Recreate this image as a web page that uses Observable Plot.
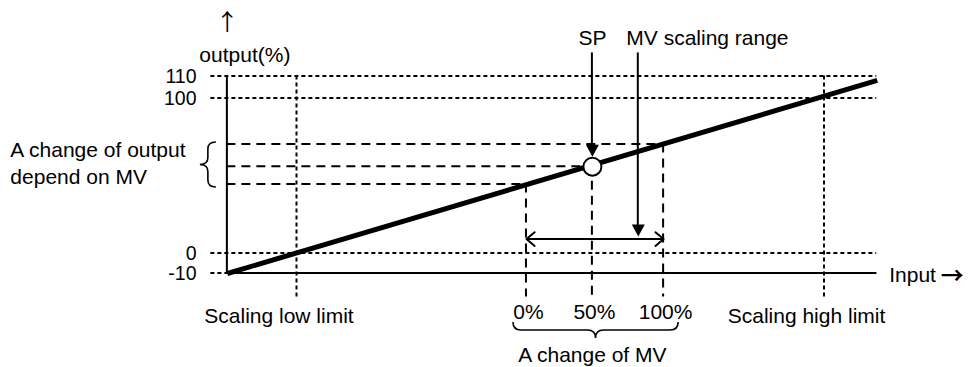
<!DOCTYPE html>
<html>
<head>
<meta charset="utf-8">
<script src="https://cdn.jsdelivr.net/npm/d3@7"></script>
<script src="https://cdn.jsdelivr.net/npm/@observablehq/plot@0.6"></script>
<style>
  html, body { margin: 0; padding: 0; background: #fff; }
  g[aria-label^="y-axis"] text { font-size: 19.5px; }
</style>
</head>
<body>
<div id="chart"></div>
<script>
// ---------------- data ----------------
const outputTicks   = [-10, 0, 100, 110];          // output(%) reference levels
const inputExtent   = [-13.2, 110];                // input axis: origin .. arrow end
const scalingLimits = [0, 100];                    // scaling low / high limit (input)
const scalingLabels = ["Scaling low limit", "Scaling high limit"];
const lineInput     = [-13.2, 110];                // characteristic line end points
const lineOutput    = [-10, 108.2];
const mvLabels      = ["0%", "50%", "100%"];
const mvInput       = [43.5, 56, 69.5];            // MV 0 / 50 / 100 % on the input axis
const mvOutput      = [44.5, 56, 70.3];            // corresponding output values
const spIndex       = 1;                           // SP sits at MV 50 %
const mvRangeInput  = 64.7;                        // "MV scaling range" arrow position
const mvRangeTip    = 11;                          // where that arrow ends
const mvSpanOutput  = 9;                           // level of the 0%..100% double arrow
const arrowTopOutput = 120.5;                      // top of the SP / MV arrows
const guideBottom   = -22;                         // lower end of vertical guides

// ---------------- styles ----------------
const black = "#000";
const crisp = {dx: -0.5, dy: -0.5};
const dotted = {stroke: black, strokeWidth: 2, strokeDasharray: "4,3", ...crisp};
const dashed = {stroke: black, strokeWidth: 2, strokeDasharray: "9,6", ...crisp};
const solid = {stroke: black, strokeWidth: 2, ...crisp};
const arrowFont = "'Noto Sans CJK JP', 'DejaVu Sans', sans-serif";

// downward triangle with its tip at the anchor point
const arrowHead = {
  draw(ctx, size) {
    const r = Math.sqrt(size / Math.PI);
    const w = 2.6 * r, h = 2.4 * r;
    ctx.moveTo(0, 0);
    ctx.lineTo(-w / 2, -h);
    ctx.lineTo(w / 2, -h);
    ctx.closePath();
  }
};

function hBrace(x1, x2, y0, d) {
  const h = d / 2, r = Math.min(8, (x2 - x1) / 4), m = (x1 + x2) / 2;
  return `M${x1},${y0} Q${x1},${y0 + h} ${x1 + r},${y0 + h} L${m - r},${y0 + h} ` +
         `Q${m},${y0 + h} ${m},${y0 + d} Q${m},${y0 + h} ${m + r},${y0 + h} ` +
         `L${x2 - r},${y0 + h} Q${x2},${y0 + h} ${x2},${y0}`;
}
function vBrace(y1, y2, xr, d) {
  const h = d / 2, r = Math.min(7, (y2 - y1) / 4), m = (y1 + y2) / 2;
  return `M${xr},${y1} Q${xr - h},${y1} ${xr - h},${y1 + r} L${xr - h},${m - r} ` +
         `Q${xr - h},${m} ${xr - d},${m} Q${xr - h},${m} ${xr - h},${m + r} ` +
         `L${xr - h},${y2 - r} Q${xr - h},${y2} ${xr},${y2}`;
}
function braces(index, scales) {
  const x = scales.x, y = scales.y;
  const g = d3.create("svg:g")
    .attr("fill", "none").attr("stroke", black).attr("stroke-width", 1.6);
  g.append("path").attr("d",
    hBrace(x(mvInput[0]) - 13, x(mvInput[2]) + 15, y(outputTicks[0]) + 49, 16));
  g.append("path").attr("d",
    vBrace(y(mvOutput[2]) - 2, y(mvOutput[0]) + 3, x(inputExtent[0]) - 11, 16));
  return g.node();
}

const lineData = lineInput.map((v, i) => ({input: v, output: lineOutput[i]}));

const chart = Plot.plot({
  width: 969,
  height: 367,
  marginLeft: 211,
  marginRight: 0,
  marginTop: 0,
  marginBottom: 0,
  style: {
    fontFamily: "'Liberation Sans', Arial, Helvetica, sans-serif",
    fontSize: "21px",
    background: "#fff",
    color: "#000",
    overflow: "visible"
  },
  x: {type: "linear", domain: scalingLimits, range: [296.5, 824], axis: null},
  y: {
    type: "linear",
    domain: outputTicks,
    range: [273, 253, 98, 76],
    axis: "left",
    ticks: outputTicks,
    tickSize: 0,
    tickPadding: 15,
    tickFormat: d => String(d),
    label: null
  },
  marks: [
    // dotted reference levels of the output
    Plot.ruleY(outputTicks, {y: d => d, x1: inputExtent[0], x2: inputExtent[1], insetLeft: -16, ...dotted}),
    // dotted scaling limits
    Plot.ruleX(scalingLimits, {x: d => d, y1: outputTicks[3], y2: guideBottom, ...dotted}),
    // long-dashed MV guides
    Plot.ruleY(mvOutput, {y: d => d, x1: inputExtent[0], x2: (d, i) => mvInput[i], ...dashed}),
    Plot.ruleX(mvInput, {x: d => d, y1: (d, i) => mvOutput[i], y2: guideBottom, ...dashed}),
    // axes lines
    Plot.ruleX([inputExtent[0]], {x: d => d, y1: outputTicks[3], y2: outputTicks[0], ...solid}),
    Plot.ruleY([outputTicks[0]], {y: d => d, x1: inputExtent[0], x2: inputExtent[1], ...solid}),
    // characteristic line
    Plot.line(lineData, {x: "input", y: "output", stroke: black, strokeWidth: 5, strokeLinecap: "butt"}),
    // SP marker
    Plot.dot([spIndex], {x: i => mvInput[i], y: i => mvOutput[i], r: 9, fill: "#fff", stroke: black, strokeWidth: 2}),
    // SP arrow
    Plot.ruleX([spIndex], {x: i => mvInput[i], y1: arrowTopOutput, y2: i => mvOutput[i], insetBottom: 18, ...solid}),
    Plot.dot([spIndex], {x: i => mvInput[i], y: i => mvOutput[i], dy: -10, r: 5, symbol: arrowHead, fill: black, stroke: "none"}),
    // MV scaling range arrow
    Plot.ruleX([mvRangeInput], {x: d => d, y1: arrowTopOutput, y2: mvRangeTip, insetBottom: 8, ...solid}),
    Plot.dot([mvRangeInput], {x: d => d, y: mvRangeTip, r: 5, symbol: arrowHead, fill: black, stroke: "none"}),
    // 0%..100% double arrow
    Plot.arrow([mvInput[0], mvInput[2]], {
      x1: (mvInput[0] + mvInput[2]) / 2, x2: d => d, y1: mvSpanOutput, y2: mvSpanOutput,
      stroke: black, strokeWidth: 2, headLength: 8, headAngle: 80, dy: -0.5
    }),
    // braces
    braces,
    // texts
    Plot.text(["↑"], {text: d => d, x: inputExtent[0], y: outputTicks[3], dy: -54, lineAnchor: "middle", fontSize: 23, fontFamily: arrowFont, fill: black}),
    Plot.text(["output(%)"], {text: d => d, x: inputExtent[0], y: outputTicks[3], dx: 17.5, dy: -15, lineAnchor: "bottom", fill: black}),
    Plot.text(["SP"], {text: d => d, x: mvInput[spIndex], y: arrowTopOutput, dy: -8, lineAnchor: "bottom", fill: black}),
    Plot.text(["MV scaling range"], {text: d => d, x: mvRangeInput, y: arrowTopOutput, dx: -12, dy: -8, textAnchor: "start", lineAnchor: "bottom", fill: black}),
    Plot.text(["A change of output\ndepend on MV"], {text: d => d, x: inputExtent[0], y: mvOutput[1], dx: -217, dy: 17, textAnchor: "start", lineAnchor: "bottom", lineHeight: 1.25, fill: black}),
    Plot.text(["Input"], {text: d => d, x: inputExtent[1], y: outputTicks[0], dx: 12, dy: 8, textAnchor: "start", lineAnchor: "bottom", fill: black}),
    Plot.text(["→"], {text: d => d, x: inputExtent[1], y: outputTicks[0], dx: 75, dy: 3, lineAnchor: "middle", fontSize: 23, fontWeight: "bold", fontFamily: arrowFont, fill: black}),
    Plot.text(scalingLabels, {text: d => d, x: (d, i) => scalingLimits[i], y: outputTicks[0], dx: -18, dy: 49, lineAnchor: "bottom", fill: black}),
    Plot.text(mvLabels, {text: d => d, x: (d, i) => mvInput[i], y: outputTicks[0], dx: 2, dy: 45, lineAnchor: "bottom", fill: black}),
    Plot.text(["A change of MV"], {text: d => d, x: mvInput[1], y: outputTicks[0], dy: 88, lineAnchor: "bottom", fill: black})
  ]
});

document.getElementById("chart").appendChild(chart);
</script>
</body>
</html>
